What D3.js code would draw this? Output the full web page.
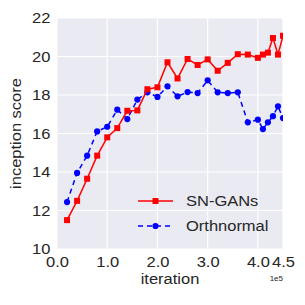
<!DOCTYPE html>
<html>
<head>
<meta charset="utf-8">
<script src="https://cdn.jsdelivr.net/npm/d3@7"></script>
<style>
body{margin:0;background:#fff;}
text{font-family:"Liberation Sans",Arial,sans-serif;fill:#262626;}
</style>
</head>
<body>
<svg id="chart"></svg>
<script>
// x in units of 1e5 iterations
const iters = [0.2,0.4,0.6,0.8,1.0,1.2,1.4,1.6,1.8,2.0,2.2,2.4,2.6,2.8,3.0,3.2,3.4,3.6,3.8,4.0,4.1,4.2,4.3,4.4,4.5];
const sn_gans = [11.5,12.5,13.65,14.85,15.8,16.28,17.18,17.2,18.3,18.4,19.7,18.86,19.87,19.56,19.85,19.26,19.67,20.12,20.1,19.93,20.1,20.2,20.96,20.1,21.08];
const orthnormal = [12.44,13.95,14.85,16.11,16.35,17.24,16.75,17.76,18.14,17.9,18.45,17.93,18.15,18.1,18.76,18.14,18.1,18.14,16.58,16.72,16.23,16.58,16.9,17.41,16.8];
const x_ticks = [0,1,2,3,4,4.5];
const y_ticks = [10,12,14,16,18,20,22];

const width = 305, height = 305;
const margin = {top:18, right:22, bottom:56, left:57};
const inner_width = width-margin.left-margin.right;
const inner_height = height-margin.top-margin.bottom;
const fs = 15, stretch = 1.1;

const svg = d3.select("#chart").attr("width",width).attr("height",height);
const chart = svg.append("g").attr("transform",`translate(${margin.left},${margin.top})`);

const xscale = d3.scaleLinear().domain([0,4.5]).range([0,inner_width]);
const yscale = d3.scaleLinear().domain([10,22]).range([inner_height,0]);

chart.append("rect").attr("width",inner_width).attr("height",inner_height).attr("fill","#eaeaf2");

// grid
chart.selectAll(".xg").data(x_ticks).enter().append("line")
    .attr("x1",d=>xscale(d)).attr("x2",d=>xscale(d))
    .attr("y1",0).attr("y2",inner_height)
    .attr("stroke","#fff").attr("stroke-width",1.2)
chart.selectAll(".yg").data(y_ticks).enter().append("line")
    .attr("y1",d=>yscale(d)).attr("y2",d=>yscale(d))
    .attr("x1",0).attr("x2",inner_width)
    .attr("stroke","#fff").attr("stroke-width",1.2)

// axes (labels only)
const xaxis = d3.axisBottom(xscale).tickValues(x_ticks).tickFormat(d3.format(".1f")).tickSize(0).tickPadding(7);
const xg = chart.append("g").attr("transform",`translate(0,${inner_height})`).call(xaxis);
const yaxis = d3.axisLeft(yscale).tickValues(y_ticks).tickFormat(d3.format("d")).tickSize(0).tickPadding(6);
const yg = chart.append("g").call(yaxis);
[xg,yg].forEach(g=>{
    g.select(".domain").remove();
    g.selectAll("text").attr("font-size",fs).attr("fill","#262626")
        .attr("transform",`scale(${stretch},1)`)
        .style("font-family","'Liberation Sans',Arial,sans-serif");
})

svg.append("text").attr("transform",`translate(${margin.left+inner_width/2},284) scale(${stretch},1)`)
    .attr("text-anchor","middle").attr("font-size",fs).text("iteration");
svg.append("text").attr("transform",`translate(20.5,${margin.top+inner_height/2}) rotate(-90) scale(${stretch},1)`)
    .attr("text-anchor","middle").attr("font-size",fs).text("inception score");
svg.append("text").attr("x",margin.left+inner_width).attr("y",281)
    .attr("text-anchor","end").attr("font-size",8).text("1e5");

// clip
svg.append("clipPath").attr("id","clip").append("rect")
    .attr("width",inner_width).attr("height",inner_height);
const plot = chart.append("g").attr("clip-path","url(#clip)");

const series = [
    {name:"SN-GANs",values:sn_gans,color:"#ff0000",dash:null,marker:"square"},
    {name:"Orthnormal",values:orthnormal,color:"#0000ff",dash:"5,4",marker:"circle"}
];
const line = d3.line().x(d=>xscale(d[0])).y(d=>yscale(d[1]));

series.slice().reverse().forEach(s=>{
    const pts = iters.map((x,i)=>[x,s.values[i]]);
    plot.append("path").datum(pts).attr("d",line)
        .attr("fill","none").attr("stroke",s.color).attr("stroke-width",1.5)
        .attr("stroke-dasharray",s.dash);
    if(s.marker=="square"){
        plot.selectAll(null).data(pts).enter().append("rect")
            .attr("x",d=>xscale(d[0])-3).attr("y",d=>yscale(d[1])-3)
            .attr("width",6).attr("height",6).attr("fill",s.color);
    }else{
        plot.selectAll(null).data(pts).enter().append("circle")
            .attr("cx",d=>xscale(d[0])).attr("cy",d=>yscale(d[1]))
            .attr("r",3.1).attr("fill",s.color);
    }
})

// legend
const legend = chart.append("g");
series.forEach((s,i)=>{
    const ly = 183+i*25;
    legend.append("line").attr("x1",81).attr("x2",116).attr("y1",ly).attr("y2",ly)
        .attr("stroke",s.color).attr("stroke-width",1.5).attr("stroke-dasharray",s.dash);
    if(s.marker=="square"){
        legend.append("rect").attr("x",98.5-3).attr("y",ly-3).attr("width",6).attr("height",6).attr("fill",s.color);
    }else{
        legend.append("circle").attr("cx",98.5).attr("cy",ly).attr("r",3.1).attr("fill",s.color);
    }
    legend.append("text").attr("transform",`translate(129,${ly+5}) scale(${stretch},1)`)
        .attr("font-size",fs).text(s.name);
})
</script>
</body>
</html>
